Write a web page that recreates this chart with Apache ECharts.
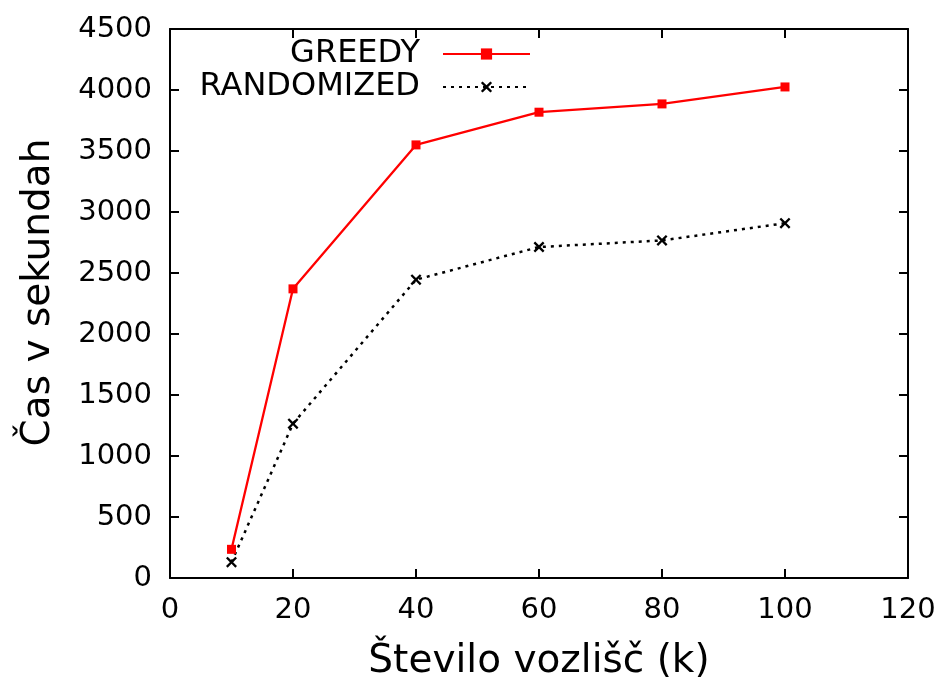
<!DOCTYPE html>
<html>
<head>
<meta charset="utf-8">
<script src="https://cdn.jsdelivr.net/npm/echarts@6/dist/echarts.min.js"></script>
<style>html,body{margin:0;padding:0;background:#fff;}#c{width:945px;height:687px;}</style>
</head>
<body>
<div id="c"></div>
<script>
const nodes = [10, 20, 40, 60, 80, 100];
const greedy = [235, 2370, 3550, 3818, 3886, 4025];
const randomized = [130, 1265, 2445, 2713, 2767, 2908];
const seriesNames = ['GREEDY', 'RANDOMIZED'];
const xTitle = 'Število vozlišč (k)';
const yTitle = 'Čas v sekundah';

const FONT = 'DejaVu Sans';
const chart = echarts.init(document.getElementById('c'), null, {renderer: 'canvas'});
const crossPath = 'path://M1.5,0 L5,3.5 L8.5,0 L10,1.5 L6.5,5 L10,8.5 L8.5,10 L5,6.5 L1.5,10 L0,8.5 L3.5,5 L0,1.5 Z';

function axisLine() { return {show: true, onZero: false, lineStyle: {color: '#000', width: 2}}; }
function tick(len) { return {show: true, inside: false, length: len, lineStyle: {color: '#000', width: 2}}; }
function label(margin) {
  return {show: true, margin: margin, color: '#000', fontFamily: FONT, fontSize: 29,
          formatter: function (v) { return String(v); }};
}
function legendText() {
  return {fontFamily: FONT, fontSize: 32, color: '#000', lineHeight: 32, padding: [0, 18, 0, 0]};
}

chart.setOption({
  animation: false,
  backgroundColor: '#fff',
  grid: {left: 170, right: 37, top: 29, bottom: 109, containLabel: false},
  legend: [
    {
      data: [seriesNames[0]], orient: 'vertical', align: 'right', right: 414, top: 38, padding: 0,
      itemWidth: 87, itemHeight: 14, textStyle: legendText()
    },
    {
      data: [seriesNames[1]], orient: 'vertical', align: 'right', right: 414, top: 71, padding: 0,
      itemWidth: 87, itemHeight: 14, textStyle: legendText()
    }
  ],
  xAxis: [
    {
      type: 'value', min: 0, max: 120, interval: 20, position: 'bottom',
      name: xTitle, nameLocation: 'middle', nameGap: 64,
      nameTextStyle: {fontFamily: FONT, fontSize: 39, color: '#000'},
      axisLine: axisLine(), axisTick: tick(-9), splitLine: {show: false},
      axisLabel: label(18)
    },
    {
      type: 'value', min: 0, max: 120, interval: 20, position: 'top',
      axisLine: axisLine(), axisTick: tick(-9), splitLine: {show: false}, axisLabel: {show: false}
    }
  ],
  yAxis: [
    {
      type: 'value', min: 0, max: 4500, interval: 500, position: 'left',
      name: yTitle, nameLocation: 'middle', nameGap: 112, nameRotate: 90,
      nameTextStyle: {fontFamily: FONT, fontSize: 39, color: '#000', padding: [0, 0, 0, 22]},
      axisLine: axisLine(), axisTick: tick(-9), splitLine: {show: false},
      axisLabel: label(18)
    },
    {
      type: 'value', min: 0, max: 4500, interval: 500, position: 'right',
      axisLine: axisLine(), axisTick: tick(-9), splitLine: {show: false}, axisLabel: {show: false}
    }
  ],
  series: [
    {
      name: seriesNames[0], type: 'line',
      data: nodes.map((x, i) => [x, greedy[i]]),
      symbol: 'rect', symbolSize: 9,
      lineStyle: {color: '#ff0000', width: 2.3},
      itemStyle: {color: '#ff0000'}
    },
    {
      name: seriesNames[1], type: 'line',
      data: nodes.map((x, i) => [x, randomized[i]]),
      symbol: crossPath, symbolSize: 11,
      lineStyle: {color: '#000', width: 2.5, type: [3, 5]},
      itemStyle: {color: '#000'}
    }
  ]
});
</script>
</body>
</html>
